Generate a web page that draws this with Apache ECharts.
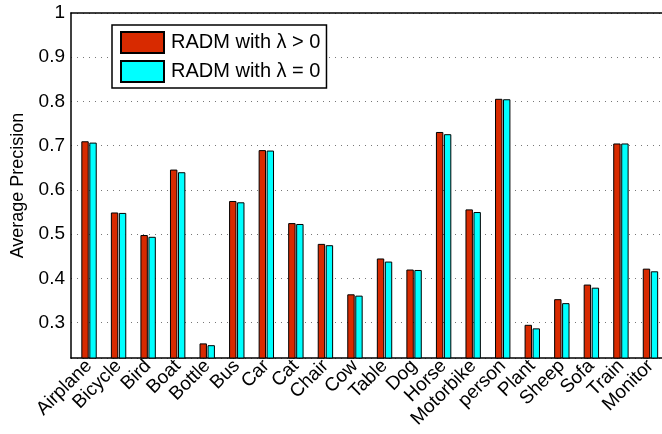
<!DOCTYPE html>
<html>
<head>
<meta charset="utf-8">
<script src="https://cdn.jsdelivr.net/npm/echarts@6/dist/echarts.min.js"></script>
<style>
  html, body { margin: 0; padding: 0; background: #fff; }
  #chart { width: 662px; height: 434px; }
</style>
</head>
<body>
<div id="chart"></div>
<script>
// VOC object classes along the x axis
const categories = ['Airplane', 'Bicycle', 'Bird', 'Boat', 'Bottle', 'Bus', 'Car', 'Cat', 'Chair', 'Cow',
  'Table', 'Dog', 'Horse', 'Motorbike', 'person', 'Plant', 'Sheep', 'Sofa', 'Train', 'Monitor'];

// Average precision per class
const apLambdaPos = [0.710, 0.549, 0.498, 0.646, 0.253, 0.575, 0.690, 0.525, 0.478, 0.364,
  0.445, 0.420, 0.731, 0.556, 0.806, 0.295, 0.353, 0.386, 0.705, 0.422];
const apLambdaZero = [0.707, 0.548, 0.494, 0.640, 0.249, 0.572, 0.689, 0.523, 0.475, 0.361,
  0.438, 0.419, 0.726, 0.550, 0.805, 0.287, 0.344, 0.379, 0.705, 0.416];

const seriesNames = ['RADM with \u03bb > 0', 'RADM with \u03bb = 0'];
const yTicks = [0.3, 0.4, 0.5, 0.6, 0.7, 0.8, 0.9, 1];

const FONT = '"Liberation Sans", Arial, Helvetica, sans-serif';
const positions = categories.map((c, i) => i + 1);

const chart = echarts.init(document.getElementById('chart'), null, { renderer: 'canvas' });

const xRange = { min: 0.39, max: 20.39 };

chart.setOption({
  animation: false,
  backgroundColor: '#fff',
  textStyle: { fontFamily: FONT },
  grid: { left: 71, right: 0, top: 13, bottom: 76, containLabel: false },
  legend: {
    orient: 'vertical',
    left: 112,
    top: 25,
    padding: [6, 6, 5, 8],
    itemWidth: 43,
    itemHeight: 21,
    itemGap: 6,
    backgroundColor: '#fff',
    borderColor: '#000',
    borderWidth: 1.5,
    borderRadius: 0,
    textStyle: { fontFamily: FONT, fontSize: 20, color: '#000', padding: [0, 0, 0, 2] },
    data: seriesNames.map(n => ({ name: n, icon: 'rect' }))
  },
  xAxis: [
    {
      type: 'value',
      min: xRange.min,
      max: xRange.max,
      position: 'bottom',
      axisLine: { show: true, lineStyle: { color: '#000', width: 1.5 } },
      axisTick: { show: false },
      splitLine: { show: false },
      axisLabel: {
        customValues: positions,
        rotate: 45,
        margin: 5,
        fontSize: 19,
        color: '#000',
        fontFamily: FONT,
        formatter: v => categories[Math.round(v) - 1] || ''
      }
    },
    {
      type: 'value',
      min: xRange.min,
      max: xRange.max,
      position: 'top',
      axisLine: { show: true, lineStyle: { color: '#000', width: 1.5 } },
      axisTick: { show: false },
      axisLabel: { show: false },
      splitLine: { show: false }
    }
  ],
  yAxis: {
    type: 'value',
    min: 0.22,
    max: 1,
    splitNumber: 8,
    name: 'Average Precision',
    nameLocation: 'middle',
    nameGap: 44,
    nameTextStyle: { fontSize: 18, color: '#000', fontFamily: FONT },
    axisLine: { show: true, lineStyle: { color: '#000', width: 1.5 } },
    axisTick: { show: false },
    axisLabel: {
      customValues: yTicks,
      fontSize: 19,
      color: '#000',
      margin: 6,
      fontFamily: FONT,
      formatter: v => (Math.abs(v - 1) < 1e-9 ? '1' : v.toFixed(1))
    },
    splitLine: {
      show: true,
      lineStyle: { color: '#777', width: 1, type: [1, 5] }
    }
  },
  series: [
    {
      name: seriesNames[0],
      type: 'bar',
      xAxisIndex: 0,
      barWidth: 7.4,
      barGap: '8%',
      itemStyle: { color: '#d82a00', borderColor: '#000', borderWidth: 1 },
      data: apLambdaPos.map((v, i) => [positions[i], v])
    },
    {
      name: seriesNames[1],
      type: 'bar',
      xAxisIndex: 0,
      barWidth: 7.4,
      barGap: '8%',
      itemStyle: { color: '#00ffff', borderColor: '#000', borderWidth: 1 },
      data: apLambdaZero.map((v, i) => [positions[i], v])
    }
  ]
});
</script>
</body>
</html>
